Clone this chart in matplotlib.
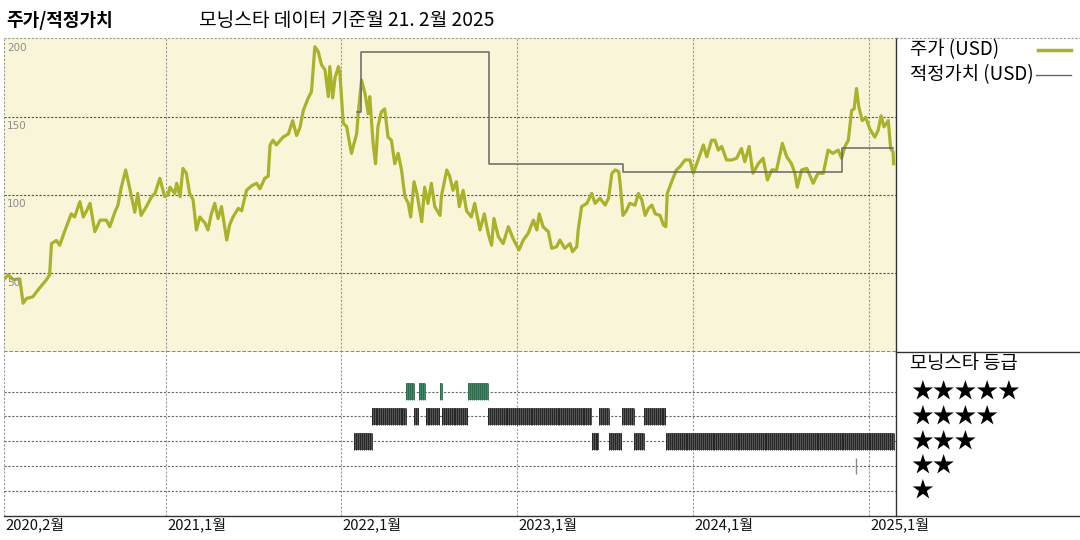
import matplotlib.pyplot as plt
import matplotlib.dates as mdates
from matplotlib.lines import Line2D
import pandas as pd

plt.rcParams['font.family'] = ['Noto Sans CJK KR', 'DejaVu Sans']

# 주가 (USD)
price_dates = [
    '2020-02-03', '2020-02-09', '2020-02-20', '2020-03-04', '2020-03-11', '2020-03-18',
    '2020-03-31', '2020-04-14', '2020-04-28', '2020-05-05', '2020-05-09', '2020-05-19',
    '2020-05-26', '2020-06-05', '2020-06-19', '2020-06-26', '2020-07-07', '2020-07-14',
    '2020-07-21', '2020-07-28', '2020-08-07', '2020-08-18', '2020-08-31', '2020-09-07',
    '2020-09-18', '2020-09-24', '2020-10-01', '2020-10-10', '2020-10-18', '2020-10-29',
    '2020-11-04', '2020-11-11', '2020-11-22', '2020-12-03', '2020-12-10', '2020-12-20',
    '2020-12-30', '2021-01-06', '2021-01-10', '2021-01-20', '2021-01-24', '2021-01-31',
    '2021-02-06', '2021-02-13', '2021-02-20', '2021-02-27', '2021-03-06', '2021-03-13',
    '2021-03-24', '2021-03-30', '2021-04-06', '2021-04-13', '2021-04-20', '2021-04-27',
    '2021-05-08', '2021-05-14', '2021-05-21', '2021-06-01', '2021-06-08', '2021-06-18',
    '2021-06-29', '2021-07-09', '2021-07-16', '2021-07-26', '2021-08-02', '2021-08-06',
    '2021-08-12', '2021-08-19', '2021-09-02', '2021-09-13', '2021-09-22', '2021-09-30',
    '2021-10-07', '2021-10-14', '2021-10-24', '2021-10-31', '2021-11-07', '2021-11-14',
    '2021-11-21', '2021-11-28', '2021-12-05', '2021-12-08', '2021-12-14', '2021-12-19',
    '2021-12-26', '2021-12-29', '2022-01-05', '2022-01-12', '2022-01-22', '2022-02-02',
    '2022-02-05', '2022-02-12', '2022-02-19', '2022-02-26', '2022-03-01', '2022-03-08',
    '2022-03-13', '2022-03-18', '2022-03-25', '2022-04-01', '2022-04-08', '2022-04-15',
    '2022-04-22', '2022-04-29', '2022-05-06', '2022-05-13', '2022-05-20', '2022-05-25',
    '2022-06-01', '2022-06-07', '2022-06-17', '2022-06-23', '2022-06-30', '2022-07-07',
    '2022-07-14', '2022-07-25', '2022-07-28', '2022-08-08', '2022-08-14', '2022-08-21',
    '2022-08-28', '2022-09-03', '2022-09-11', '2022-09-18', '2022-09-28', '2022-10-05',
    '2022-10-16', '2022-10-25', '2022-11-02', '2022-11-09', '2022-11-14', '2022-11-23',
    '2022-12-03', '2022-12-14', '2022-12-24', '2023-01-05', '2023-01-14', '2023-01-24',
    '2023-02-04', '2023-02-11', '2023-02-16', '2023-02-24', '2023-03-07', '2023-03-14',
    '2023-03-24', '2023-03-31', '2023-04-10', '2023-04-21', '2023-04-26', '2023-05-05',
    '2023-05-08', '2023-05-15', '2023-05-26', '2023-06-05', '2023-06-12', '2023-06-22',
    '2023-07-03', '2023-07-10', '2023-07-17', '2023-07-24', '2023-07-31', '2023-08-03',
    '2023-08-09', '2023-08-16', '2023-08-23', '2023-09-03', '2023-09-10', '2023-09-17',
    '2023-09-24', '2023-10-01', '2023-10-08', '2023-10-15', '2023-10-25', '2023-11-01',
    '2023-11-06', '2023-11-09', '2023-11-18', '2023-11-28', '2023-12-05', '2023-12-16',
    '2023-12-26', '2024-01-02', '2024-01-12', '2024-01-23', '2024-01-30', '2024-02-09',
    '2024-02-16', '2024-02-23', '2024-03-01', '2024-03-11', '2024-03-22', '2024-04-01',
    '2024-04-11', '2024-04-18', '2024-04-27', '2024-05-05', '2024-05-16', '2024-05-26',
    '2024-06-04', '2024-06-13', '2024-06-23', '2024-07-05', '2024-07-14', '2024-07-24',
    '2024-07-31', '2024-08-05', '2024-08-14', '2024-08-25', '2024-09-07', '2024-09-17',
    '2024-09-28', '2024-10-08', '2024-10-18', '2024-10-29', '2024-11-05', '2024-11-12',
    '2024-11-19', '2024-11-26', '2024-12-01', '2024-12-06', '2024-12-11', '2024-12-18',
    '2024-12-25', '2025-01-03', '2025-01-13', '2025-01-20', '2025-01-26', '2025-02-01',
    '2025-02-10', '2025-02-15', '2025-02-20', '2025-02-21',
]
price_vals = [
    47, 49, 46, 46.5, 31, 34,
    35, 40.6, 45.8, 49, 69, 71,
    68, 76.6, 88, 86, 95.8, 86,
    90, 94.7, 76.6, 84, 84, 79.8,
    89.4, 93.6, 105, 116, 105, 89,
    101, 87, 92.6, 99, 101, 110.7,
    99, 100, 105, 101, 107.5, 99,
    117, 114, 101, 97, 77.7, 86,
    82, 77.7, 88, 94.7, 85, 92.6,
    71.3, 81, 86, 91.5, 90, 103,
    106, 107.5, 104, 110.7, 112, 132,
    135, 132, 137, 139, 147.5, 138,
    143, 154, 161.8, 166, 194.7, 191.5,
    183, 180, 162.8, 182, 162, 175,
    182, 177.6, 145.8, 143.7, 126.6, 139.4,
    152, 173.4, 165, 152, 162.8, 133,
    120, 143.6, 153, 155, 137, 135,
    120, 126.6, 116, 99, 94.7, 86,
    108.5, 101, 83, 105, 94.7, 107.5,
    92.6, 87, 99.6, 116, 112, 103,
    108.5, 92.6, 103, 90, 86, 94.7,
    77.7, 88, 75.5, 68, 85, 73.5,
    69, 79.8, 72, 65, 71.3, 75.5,
    84, 77.7, 88, 79.8, 76.6, 66,
    67, 71.3, 66, 69, 63.8, 67,
    77.7, 92.6, 94.7, 101, 94.7, 98,
    93.6, 98, 113.9, 116, 115, 107.5,
    87, 90, 94.7, 93.6, 101, 97,
    87, 91.5, 93.6, 88, 87, 80.9,
    79.8, 101, 108.5, 116, 118, 122.4,
    122.4, 113.9, 122.4, 132, 124.5, 135,
    135, 128.7, 131, 122.4, 122.4, 123.5,
    129.7, 121.3, 131, 113.9, 120, 123.5,
    109.6, 116, 116, 133, 124.5, 120,
    113.9, 105, 116, 117, 107.5, 113.9,
    113.9, 128.7, 126.6, 128.7, 123.5, 131,
    135, 154, 155, 168, 156, 147.5,
    149.6, 142, 137, 141.3, 150.6, 143.5,
    147.5, 129.7, 127.6, 120,
]

# 적정가치 (USD), step line
fv_dates = ['2022-02-03', '2022-02-10', '2022-11-04', '2023-08-08', '2024-11-06', '2025-02-20']
fv_vals = [153, 191.5, 119.8, 115, 129.8, 129.8]

# 모닝스타 등급 periods (start, end)
rating5 = [('2022-05-16', '2022-06-01'), ('2022-06-11', '2022-06-24'),
           ('2022-07-25', '2022-07-29'), ('2022-09-22', '2022-11-01')]
rating4 = [('2022-03-05', '2022-05-16'), ('2022-06-01', '2022-06-11'),
           ('2022-06-25', '2022-07-25'), ('2022-07-29', '2022-09-21'),
           ('2022-11-02', '2023-06-05'), ('2023-06-20', '2023-07-11'),
           ('2023-08-07', '2023-09-01'), ('2023-09-22', '2023-11-07')]
rating3 = [('2022-01-28', '2022-03-05'), ('2023-06-05', '2023-06-20'),
           ('2023-07-11', '2023-08-07'), ('2023-09-01', '2023-09-22'),
           ('2023-11-07', '2025-02-21')]
rating2 = ['2024-12-06']

tick_dates = ['2020-02-01', '2021-01-01', '2022-01-01', '2023-01-01', '2024-01-01', '2025-01-01']
tick_labels = ['2020,2월', '2021,1월', '2022,1월', '2023,1월', '2024,1월', '2025,1월']
y_labels = [200, 150, 100, 50, 0]

GREEN = '#a9b22a'
FV_GRAY = '#666666'
BG = '#f9f5d9'

x_start = pd.Timestamp('2020-02-01')
x_end = pd.Timestamp('2025-02-26')

fig = plt.figure(figsize=(10.8, 5.4), dpi=100)
ax1 = fig.add_axes([0.004, 0.3487, 0.8256, 0.5802])
ax2 = fig.add_axes([0.004, 0.0444, 0.8256, 0.3043])

pdates = pd.to_datetime(price_dates)
ax1.set_facecolor(BG)
ax1.plot(pdates, price_vals, color=GREEN, lw=2.3, zorder=3)
ax1.plot(pd.to_datetime(fv_dates), fv_vals, color=FV_GRAY, lw=1.1,
         drawstyle='steps-post', zorder=4)
ax1.set_ylim(0, 200)

# rating bars
row_h = 0.66
def draw_rating(spans, row, base, stripe):
    for s, e in spans:
        s, e = pd.Timestamp(s), pd.Timestamp(e)
        ax2.broken_barh([(mdates.date2num(s), mdates.date2num(e) - mdates.date2num(s))],
                        (row - row_h / 2, row_h), facecolors=base, edgecolor='none', zorder=3)
        wk = pd.date_range(s, e, freq='4D')
        ax2.vlines(wk, row - row_h / 2, row + row_h / 2, colors=stripe, lw=0.6, zorder=4)

draw_rating(rating5, 5, '#3f8a66', '#2a6548')
draw_rating(rating4, 4, '#555555', '#1e1e1e')
draw_rating(rating3, 3, '#555555', '#1e1e1e')
ax2.vlines(pd.to_datetime(rating2), 2 - row_h / 2, 2 + row_h / 2, colors='#8a8a8a', lw=1.0, zorder=4)
ax2.set_ylim(0, 6.6)

for ax in (ax1, ax2):
    ax.set_xlim(x_start, x_end)
    ax.set_xticks([])
    ax.set_yticks([])
    for d in tick_dates[1:]:
        ax.axvline(pd.Timestamp(d), color='#9a9a9a', lw=0.8, ls=(0, (2, 1.5)), zorder=1)
    for sp in ax.spines.values():
        sp.set_visible(False)

for v in [50, 100, 150]:
    ax1.axhline(v, color='#555555', lw=0.8, ls=(0, (2, 1.5)), zorder=1)
ax1.axhline(200, color='#9a9a9a', lw=0.8, ls=(0, (2, 1.5)), zorder=1)
ax1.axhline(0, color='#808080', lw=1.3, ls=(0, (2, 1)), zorder=1)
ax1.axvline(x_start, color='#9a9a9a', lw=0.8, ls=(0, (2, 1.5)), zorder=1)
ax2.axvline(x_start, color='#9a9a9a', lw=0.8, ls=(0, (2, 1.5)), zorder=1)
for r in [1, 2, 3, 4, 5]:
    ax2.axhline(r, color='#666666', lw=0.8, ls=(0, (2, 1.5)), zorder=1)

# y labels inside top-left
for v in y_labels:
    ax1.annotate(str(v), xy=(0, v), xycoords=('axes fraction', 'data'),
                 xytext=(2, -3), textcoords='offset points', va='top', ha='left',
                 fontsize=7.5, color='#8c8c8c', family=['DejaVu Sans'], annotation_clip=False)

# x labels
for d, lab in zip(tick_dates, tick_labels):
    ax2.annotate(lab, xy=(pd.Timestamp(d), 0), xycoords=('data', 'axes fraction'),
                 xytext=(1, -1), textcoords='offset points', va='top', ha='left',
                 fontsize=10.7, color='#111111', annotation_clip=False)

# frame lines on figure
W, H = 1080, 540
def fline(x0, y0, x1, y1, **kw):
    fig.add_artist(Line2D([x0 / W, x1 / W], [1 - y0 / H, 1 - y1 / H], **kw))

fline(896, 38.4, 896, 516, color='#333333', lw=1.0)
fline(896, 351.7, 1080, 351.7, color='#333333', lw=1.0)
fline(896, 38.4, 1080, 38.4, color='#9a9a9a', lw=0.8, ls=(0, (2, 1.5)))
fline(4, 516, 1080, 516, color='#333333', lw=1.0)

# titles
fig.text(6 / W, 1 - 21 / H, '주가/적정가치', fontsize=13, fontweight='bold', va='center', ha='left')
fig.text(199 / W, 1 - 21 / H, '모닝스타 데이터 기준월 21. 2월 2025', fontsize=13.8, va='center', ha='left')

# legend
fig.text(910 / W, 1 - 50 / H, '주가 (USD)', fontsize=13.5, va='center', ha='left')
fline(1038, 49.5, 1071, 49.5, color=GREEN, lw=2.5)
fig.text(910 / W, 1 - 75 / H, '적정가치 (USD)', fontsize=13.5, va='center', ha='left')
fline(1036, 74.5, 1071, 74.5, color=FV_GRAY, lw=1.0)

fig.text(910 / W, 1 - 363 / H, '모닝스타 등급', fontsize=13.5, va='center', ha='left')
star_rows = [392.7, 417.7, 442.3, 467, 491.7]
for n, yy in zip([5, 4, 3, 2, 1], star_rows):
    fig.text(911 / W, 1 - yy / H, '★' * n, fontsize=15.7, va='center', ha='left', color='black')

fig.savefig('out.png', dpi=100, facecolor='white')
